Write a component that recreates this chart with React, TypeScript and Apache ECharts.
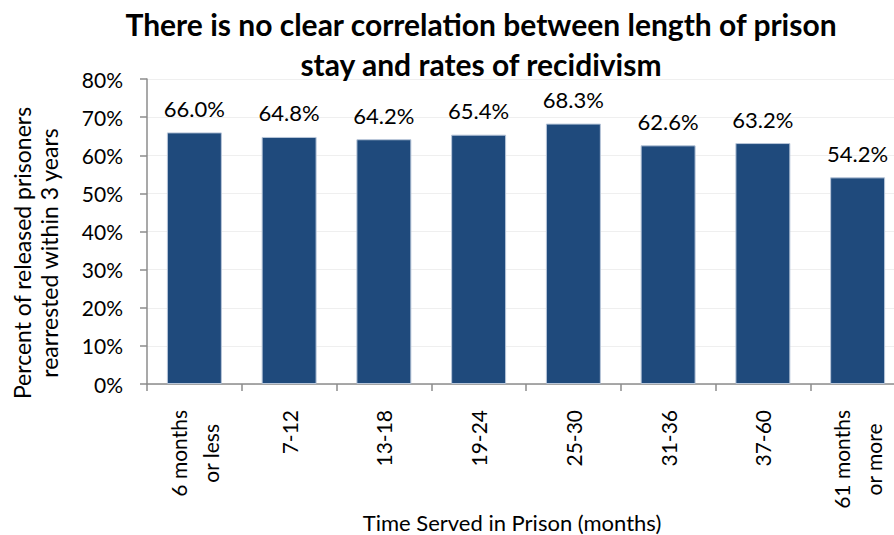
import React, { useEffect, useRef } from "react";
import * as echarts from "echarts";

const categories = ["6 months\nor less", "7-12", "13-18", "19-24", "25-30", "31-36", "37-60", "61 months\nor more"];
const values = [66.0, 64.8, 64.2, 65.4, 68.3, 62.6, 63.2, 54.2];
const titleText = "There is no clear correlation between length of prison\nstay and rates of recidivism";
const yAxisTitle = "Percent of released prisoners\nrearrested within 3 years";
const xAxisTitle = "Time Served in Prison (months)";

const FONT = "Lato, 'Open Sans', sans-serif";
const XL_SIZE = 21;
const XL_MARGIN = 26;
const XL_LINE = 32;

function measure(text: string, size: number): number {
  const c = document.createElement("canvas").getContext("2d");
  if (!c) return text.length * size * 0.5;
  c.font = `${size}px Lato`;
  return c.measureText(text).width;
}

export default function App() {
  const ref = useRef<HTMLDivElement>(null);
  useEffect(() => {
    if (!ref.current) return;
    const chart = echarts.init(ref.current, undefined, { renderer: "svg" });
    chart.setOption({
      animation: false,
      backgroundColor: "#ffffff",
      textStyle: { fontFamily: FONT },
      title: {
        text: titleText,
        left: 476,
        textAlign: "center",
        top: -1,
        textStyle: { fontFamily: FONT, fontSize: 30, fontWeight: "bold", color: "#000", lineHeight: 40 },
      },
      grid: { left: 147, right: -11, top: 79, bottom: 151, containLabel: false, outerBoundsMode: "none" },
      xAxis: {
        type: "category",
        data: categories,
        axisLine: { lineStyle: { color: "#8c8c8c", width: 1.5 } },
        axisTick: { show: true, length: 7, lineStyle: { color: "#8c8c8c", width: 1.5 } },
        axisLabel: { show: false },
      },
      yAxis: {
        type: "value",
        min: 0,
        max: 80,
        interval: 10,
        axisLine: { show: true, lineStyle: { color: "#8c8c8c", width: 1.5 } },
        axisTick: { show: true, length: 7, lineStyle: { color: "#8c8c8c", width: 1.5 } },
        splitLine: { lineStyle: { color: "#efefef", width: 1 } },
        axisLabel: { formatter: "{value}%", margin: 24, fontFamily: FONT, fontSize: 21, color: "#000" },
      },
      series: [
        {
          type: "bar",
          data: values,
          barWidth: "58%",
          itemStyle: { color: "#1F4A7C", borderColor: "#B8C6D9", borderWidth: 1 },
          label: {
            show: true,
            position: "top",
            distance: 13,
            formatter: (p: any) => p.value.toFixed(1) + "%",
            fontFamily: FONT,
            fontSize: 22,
            color: "#000",
          },
        },
      ],
    });

    const axisY = chart.convertToPixel({ yAxisIndex: 0 }, 0) as number;
    const labelEls: any[] = [];
    categories.forEach((cat) => {
      const px = chart.convertToPixel({ xAxisIndex: 0 }, cat) as number;
      const lines = cat.split("\n");
      const w = Math.max(...lines.map((l) => measure(l, XL_SIZE)));
      lines.forEach((line, li) => {
        const offset = (li - (lines.length - 1) / 2) * XL_LINE;
        labelEls.push({
          type: "text",
          x: px + offset,
          y: axisY + XL_MARGIN + w / 2,
          rotation: Math.PI / 2,
          style: {
            text: line,
            x: 0,
            y: 0,
            align: "center",
            verticalAlign: "middle",
            fontFamily: FONT,
            fontSize: XL_SIZE,
            fill: "#000",
          },
        });
      });
    });

    chart.setOption({
      graphic: [
        ...labelEls,
        {
          type: "text",
          x: 512,
          y: 522,
          style: {
            text: xAxisTitle,
            x: 0,
            y: 0,
            align: "center",
            verticalAlign: "middle",
            fontFamily: FONT,
            fontSize: 22,
            fill: "#000",
          },
        },
        {
          type: "text",
          x: 35,
          y: 253,
          rotation: Math.PI / 2,
          style: {
            text: yAxisTitle,
            x: 0,
            y: 0,
            align: "center",
            verticalAlign: "middle",
            fontFamily: FONT,
            fontSize: 23,
            lineHeight: 27,
            fill: "#000",
          },
        },
      ],
    });
    return () => chart.dispose();
  }, []);
  return <div ref={ref} style={{ width: 894, height: 535, position: "absolute", left: 0, top: 0 }} />;
}
